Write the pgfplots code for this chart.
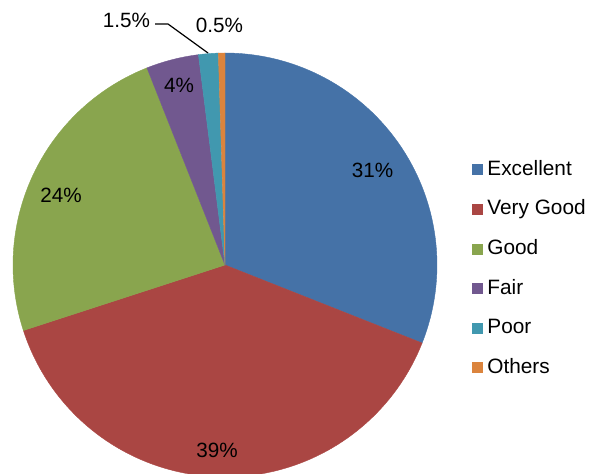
\documentclass[border=0pt]{standalone}
\usepackage{pgfplots}
\usepackage{pgfplotstable}
\pgfplotsset{compat=1.18}
\usepackage{fontspec}
\setmainfont{Liberation Sans}
\definecolor{cExc}{HTML}{4572A7}
\definecolor{cVG}{HTML}{AA4643}
\definecolor{cGood}{HTML}{89A54E}
\definecolor{cFair}{HTML}{71588F}
\definecolor{cPoor}{HTML}{4198AF}
\definecolor{cOth}{HTML}{DB843D}
\pgfplotstableread[col sep=comma]{
label,value,col
Excellent,31,cExc
Very Good,39,cVG
Good,24,cGood
Fair,4,cFair
Poor,1.5,cPoor
Others,0.5,cOth
}\piedata
\begin{document}
\begin{tikzpicture}
\begin{axis}[
  scale only axis,
  width=442.5pt, height=355.5pt,
  xmin=0, xmax=590, ymin=0, ymax=474,
  hide axis, clip=true,
  font=\fontsize{15.5}{18}\selectfont,
  legend cell align=left,
  legend image code/.code={\fill[#1] (0pt,-3.5pt) rectangle (7.5pt,4pt);},
  legend style={at={(axis cs:472,205)}, anchor=west, draw=none, fill=none,
    inner sep=0pt, outer sep=0pt, row sep=15.2pt, column sep=3.75pt,
    font=\fontsize{15.6}{18}\selectfont,
    nodes={inner sep=0pt, text height=11.2pt, text depth=3.3pt}},
]
\xdef\cum{0}
\pgfplotsinvokeforeach{0,...,5}{
  \pgfplotstablegetelem{#1}{value}\of\piedata \let\val\pgfplotsretval
  \pgfplotstablegetelem{#1}{col}\of\piedata \let\col\pgfplotsretval
  \pgfplotstablegetelem{#1}{label}\of\piedata \let\lab\pgfplotsretval
  \pgfmathsetmacro\angA{90-3.6*\cum}
  \pgfmathsetmacro\angB{90-3.6*(\cum+\val)}
  \pgfmathsetmacro\newcum{\cum+\val}
  \xdef\cum{\newcum}
  \edef\doplot{\noexpand\addplot[fill=\col, draw=\col, line width=0.3pt, domain=\angB:\angA, samples=90] ({225+212*cos(x)}, {209+212*sin(x)}) -- (axis cs:225,209) -- cycle; \noexpand\addlegendentry{\lab}}
  \doplot
}
\addplot[black, line width=0.9pt, forget plot] coordinates {(155,450) (168,450) (208,421)};
\node[inner sep=0pt] at (axis cs:372.5,304) {31\%};
\node[inner sep=0pt] at (axis cs:217,24) {39\%};
\node[inner sep=0pt] at (axis cs:61,278.5) {24\%};
\node[inner sep=0pt] at (axis cs:179,388.5) {4\%};
\node[inner sep=0pt] at (axis cs:126.5,453.5) {1.5\%};
\node[inner sep=0pt] at (axis cs:219.5,449) {0.5\%};
\end{axis}
\pgfresetboundingbox
\path (0,0) rectangle (442.5pt,355.5pt);
\end{tikzpicture}
\end{document}
